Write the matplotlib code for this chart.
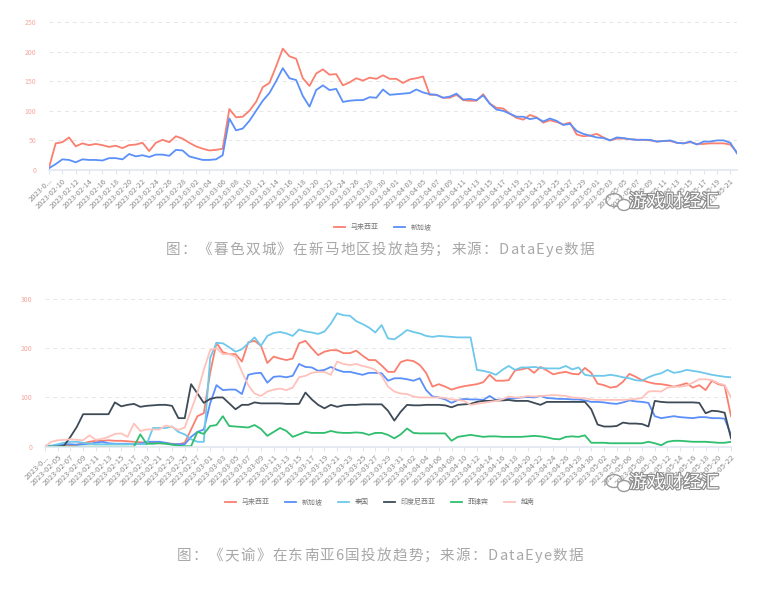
import pandas as pd
import matplotlib
matplotlib.use("Agg")
import matplotlib.pyplot as plt
import matplotlib.patheffects as pe
from matplotlib.patches import Ellipse

plt.rcParams['font.family'] = ['Noto Sans CJK SC', 'DejaVu Sans']

# chart 1: 暮色双城, 新马
dates1 = pd.date_range("2023-02-08", "2023-05-22").strftime("%Y-%m-%d").tolist()
my1 = [4, 45, 47, 55, 40, 45, 42, 44, 42, 39,
       41, 37, 42, 43, 46, 32, 46, 51, 47, 57,
       53, 46, 40, 36, 33, 34, 36, 103, 89, 90,
       100, 115, 140, 147, 175, 205, 192, 188, 155, 142,
       163, 170, 161, 162, 143, 148, 155, 151, 156, 154,
       160, 154, 154, 147, 153, 155, 158, 127, 127, 122,
       122, 127, 118, 117, 117, 128, 112, 105, 104, 95,
       88, 85, 93, 89, 80, 84, 81, 77, 80, 60,
       57, 58, 61, 55, 50, 53, 53, 52, 51, 51,
       50, 48, 49, 49, 46, 45, 47, 44, 44, 45,
       45, 45, 43, 30]
sg1 = [3, 10, 18, 17, 13, 18, 17, 17, 16, 20,
       20, 18, 27, 23, 25, 22, 26, 26, 24, 34,
       33, 23, 20, 17, 17, 18, 25, 87, 67, 70,
       83, 100, 117, 130, 150, 172, 155, 152, 125, 107,
       135, 143, 135, 137, 115, 117, 118, 118, 123, 122,
       136, 127, 128, 129, 130, 136, 131, 128, 127, 122,
       124, 129, 119, 120, 118, 126, 112, 102, 100, 95,
       90, 90, 86, 88, 82, 87, 83, 76, 78, 66,
       61, 58, 55, 54, 50, 55, 54, 52, 51, 51,
       51, 48, 49, 50, 46, 45, 48, 43, 48, 48,
       50, 50, 46, 28]

# chart 2: 天谕, 东南亚6国
dates2 = pd.date_range("2023-02-03", "2023-05-22").strftime("%Y-%m-%d").tolist()
my2 = [0, 0, 0, 1, 3, 4, 7, 10, 12, 12,
       13, 12, 12, 11, 10, 9, 8, 8, 7, 7,
       6, 5, 8, 35, 62, 68, 150, 211, 192, 188,
       188, 173, 212, 215, 205, 170, 183, 179, 176, 179,
       210, 215, 200, 186, 193, 196, 196, 190, 190, 195,
       185, 176, 176, 165, 152, 152, 172, 176, 174, 166,
       150, 122, 127, 122, 116, 120, 123, 125, 127, 131,
       146, 134, 134, 135, 155, 157, 160, 150, 162, 155,
       147, 150, 152, 148, 147, 160, 150, 128, 125, 120,
       122, 132, 148, 142, 135, 131, 128, 127, 125, 122,
       125, 129, 120, 125, 115, 134, 127, 124, 62]
sg2 = [0, 1, 3, 5, 5, 4, 5, 6, 8, 10,
       7, 6, 6, 6, 5, 6, 10, 10, 10, 8,
       5, 5, 5, 20, 30, 35, 88, 125, 115, 116,
       116, 107, 146, 149, 150, 130, 142, 143, 141, 144,
       168, 162, 161, 154, 156, 162, 156, 152, 152, 149,
       146, 150, 150, 149, 134, 139, 139, 137, 134, 139,
       115, 102, 100, 96, 89, 95, 97, 96, 96, 95,
       103, 95, 96, 98, 98, 100, 101, 100, 103, 99,
       98, 97, 97, 96, 96, 94, 91, 91, 90, 88,
       87, 90, 94, 92, 91, 89, 62, 58, 60, 62,
       60, 59, 58, 60, 60, 58, 58, 57, 24]
th2 = [2, 2, 5, 8, 10, 10, 8, 6, 5, 5,
       5, 5, 5, 5, 6, 5, 5, 38, 38, 38,
       41, 30, 25, 15, 10, 10, 180, 211, 210, 202,
       193, 198, 210, 222, 205, 225, 231, 233, 230, 225,
       238, 234, 232, 229, 234, 250, 271, 267, 266, 255,
       249, 242, 232, 247, 220, 218, 227, 237, 233, 230,
       225, 223, 225, 224, 223, 222, 222, 222, 156, 154,
       151, 146, 156, 164, 156, 161, 161, 162, 160, 159,
       159, 159, 164, 157, 161, 146, 144, 144, 144, 146,
       144, 141, 139, 135, 134, 141, 146, 149, 156, 150,
       152, 156, 154, 152, 149, 146, 144, 142, 141]
id2 = [0, 0, 0, 2, 20, 40, 66, 66, 66, 66,
       66, 90, 82, 85, 87, 81, 83, 84, 85, 85,
       83, 58, 58, 127, 108, 89, 97, 100, 100, 88,
       76, 85, 85, 90, 88, 88, 88, 88, 87, 87,
       87, 110, 96, 85, 78, 85, 81, 84, 85, 85,
       86, 86, 86, 86, 73, 53, 71, 85, 84, 84,
       85, 85, 85, 84, 80, 85, 86, 87, 91, 93,
       93, 94, 94, 95, 93, 93, 93, 89, 85, 91,
       91, 91, 91, 91, 91, 91, 76, 45, 41, 41,
       42, 49, 47, 47, 46, 41, 93, 91, 90, 90,
       90, 90, 90, 89, 68, 73, 72, 69, 17]
ph2 = [0, 0, 0, 0, 0, 0, 0, 0, 0, 0,
       0, 0, 0, 0, 0, 25, 6, 6, 7, 6,
       4, 2, 1, 1, 30, 26, 42, 44, 62, 42,
       41, 40, 39, 44, 36, 22, 30, 38, 32, 20,
       25, 30, 28, 28, 28, 32, 29, 28, 28, 29,
       28, 24, 28, 28, 24, 17, 25, 37, 28, 27,
       27, 27, 27, 27, 12, 20, 22, 24, 22, 20,
       21, 21, 20, 20, 20, 20, 21, 22, 21, 19,
       16, 15, 20, 21, 20, 23, 8, 8, 8, 7,
       7, 7, 7, 7, 7, 10, 7, 3, 10, 12,
       12, 11, 10, 10, 10, 9, 8, 8, 10]
vn2 = [0, 10, 13, 14, 15, 14, 13, 23, 14, 16,
       20, 26, 27, 20, 47, 32, 35, 35, 35, 43,
       40, 34, 39, 74, 110, 156, 196, 200, 188, 188,
       183, 152, 125, 108, 103, 112, 116, 118, 115, 120,
       141, 144, 150, 152, 152, 146, 173, 168, 166, 168,
       164, 161, 156, 144, 122, 112, 108, 107, 102, 100,
       100, 100, 100, 99, 96, 95, 93, 85, 87, 89,
       91, 93, 96, 102, 100, 100, 103, 102, 103, 104,
       105, 104, 103, 100, 99, 98, 96, 95, 95, 95,
       95, 95, 96, 97, 99, 112, 113, 112, 120, 122,
       122, 124, 130, 137, 137, 135, 129, 125, 100]

names1 = ["马来西亚", "新加坡"]
names2 = ["马来西亚", "新加坡", "泰国", "印度尼西亚", "菲律宾", "越南"]
colors2 = ["#FA7F6F", "#5B8FF9", "#6DC8EC", "#3E4B57", "#2FBF6E", "#FFC2BB"]

caption1 = "图：《暮色双城》在新马地区投放趋势；来源：DataEye数据"
caption2 = "图：《天谕》在东南亚6国投放趋势；来源：DataEye数据"
watermark = "游戏财经汇"

W, H = 766, 598
fig = plt.figure(figsize=(W / 100, H / 100), dpi=100)
fig.patch.set_facecolor("white")
renderer = fig.canvas.get_renderer()


def style(ax, dates, ymax, ystep, fs):
    n = len(dates)
    ax.set_xlim(0, n - 1)
    ax.set_ylim(0, ymax)
    for s in ["top", "right", "left"]:
        ax.spines[s].set_visible(False)
    ax.spines["bottom"].set_color("#E0E6F1")
    ax.spines["bottom"].set_linewidth(1.2)
    ax.set_yticks(range(0, ymax + 1, ystep))
    ax.tick_params(axis="y", length=0, pad=9, labelsize=5, labelcolor="#F7A79E")
    ax.yaxis.grid(True, color="#E6E6E6", linestyle=(0, (4, 4)), linewidth=0.7)
    ax.set_axisbelow(True)
    ticks = list(range(0, n, 2))
    labels = [dates[i] for i in ticks]
    labels[0] = "2023-0..."
    ax.set_xticks(ticks)
    ax.set_xticklabels(labels, rotation=45, ha="right", va="top",
                       rotation_mode="anchor", fontsize=fs, color="#8C8C8C")
    ax.tick_params(axis="x", length=3, width=0.8, color="#E0E6F1", pad=2)


def spaced_text(txt, x0, x1, y, **kw):
    # place characters one by one so the caption fills x0..x1 (pixels)
    widths = []
    for ch in txt:
        t = fig.text(0, 0, ch, **kw)
        widths.append(t.get_window_extent(renderer).width)
        t.remove()
    gap = (x1 - x0 - sum(widths)) / (len(txt) - 1)
    x = x0
    for ch, w in zip(txt, widths):
        fig.text(x / W, 1 - y / H, ch, ha="left", va="center", **kw)
        x += w + gap


# top chart
ax1 = fig.add_axes([49 / W, 1 - 170 / H, 688 / W, 148 / H])
x1 = range(len(dates1))
ax1.plot(x1, my1, color=colors2[0], lw=1.3, label=names1[0])
ax1.plot(x1, sg1, color=colors2[1], lw=1.3, label=names1[1])
style(ax1, dates1, 250, 50, 5.4)
ax1.legend(loc="center", bbox_to_anchor=(383 / W, 1 - 227 / H),
           bbox_transform=fig.transFigure, ncol=2, frameon=False, fontsize=5,
           handlelength=1.6, columnspacing=2.2, labelcolor="#777777")

# bottom chart
ax2 = fig.add_axes([45 / W, 1 - 446.7 / H, 686 / W, 147.7 / H])
x2 = range(len(dates2))
for vals, name, c in zip([my2, sg2, th2, id2, ph2, vn2], names2, colors2):
    ax2.plot(x2, vals, color=c, lw=1.3, label=name)
style(ax2, dates2, 300, 100, 5.6)
ax2.legend(loc="center", bbox_to_anchor=(380 / W, 1 - 502 / H),
           bbox_transform=fig.transFigure, ncol=6, frameon=False, fontsize=5,
           handlelength=1.6, columnspacing=2.2, labelcolor="#777777")

# captions
spaced_text(caption1, 166, 594, 250, fontsize=10.5, color="#A8A8A8")
spaced_text(caption2, 177, 583, 556, fontsize=10.5, color="#A8A8A8")

# watermarks
for y in [202, 483]:
    fig.text(674 / W, 1 - y / H, watermark, ha="center", va="center",
             fontsize=13, color="white",
             path_effects=[pe.withStroke(linewidth=1.6, foreground="#8A8A8A")])
    fig.patches.append(Ellipse((614 / W, 1 - (y - 2) / H), 16 / W, 13 / H,
                               transform=fig.transFigure, fill=False,
                               ec="#9A9A9A", lw=1))
    fig.patches.append(Ellipse((624 / W, 1 - (y + 3) / H), 13 / W, 11 / H,
                               transform=fig.transFigure, fc="white",
                               ec="#9A9A9A", lw=1))

fig.savefig("out.png", dpi=100, facecolor="white")
